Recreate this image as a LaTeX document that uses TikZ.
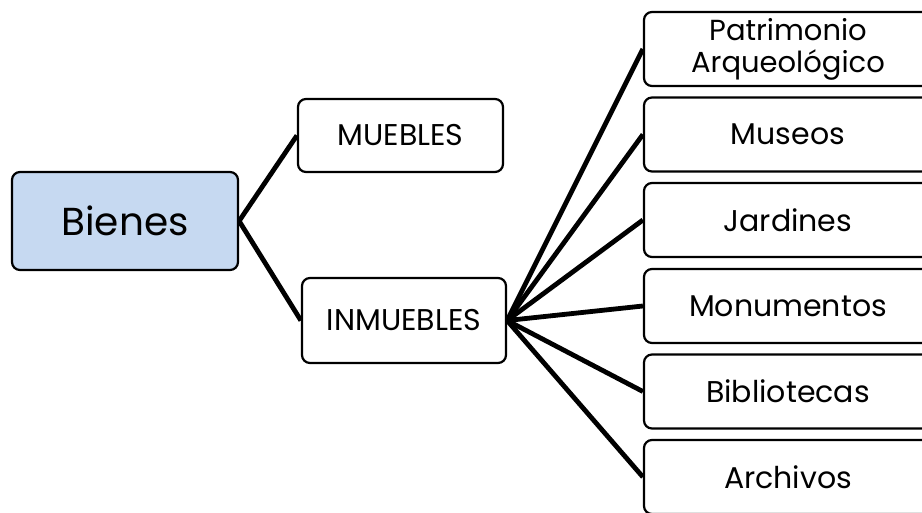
\documentclass[tikz,border=0pt]{standalone}
\usepackage{fontspec}
\setmainfont{Poppins}
\definecolor{bienesfill}{HTML}{C6D9F1}
\tikzset{
  box/.style={draw=black, line width=2.2pt, rounded corners=8pt, inner sep=0pt, align=center, text=black, font=\fontsize{30}{31}\selectfont},
  rbox/.style={box, minimum width=288pt, minimum height=74pt},
  link/.style={line width=4.8pt, black}
}
\begin{document}
\begin{tikzpicture}[x=1pt,y=-1pt]
\useasboundingbox (0,0) rectangle (922,512);
\clip (0,0) rectangle (922,512);
\node[box, fill=bienesfill, minimum width=226pt, minimum height=98pt, font=\fontsize{39}{42}\selectfont] (bienes) at (125,221) {Bienes};
\node[box, minimum width=205pt, minimum height=73pt] (muebles) at (400.5,135.5) {MUEBLES};
\node[box, minimum width=204pt, minimum height=85pt] (inmuebles) at (404,320.5) {INMUEBLES};
\node[rbox, font=\fontsize{29}{32}\selectfont] (patrimonio) at (788,49) {Patrimonio\\Arqueológico};
\node[rbox] (museos) at (788,134.5) {Museos};
\node[rbox] (jardines) at (788,220) {Jardines};
\node[rbox] (monumentos) at (788,306) {Monumentos};
\node[rbox] (bibliotecas) at (788,391.5) {Bibliotecas};
\node[rbox] (archivos) at (788,477) {Archivos};
\draw[link] (bienes.east) -- (muebles.west);
\draw[link] (bienes.east) -- (inmuebles.west);
\foreach \n in {patrimonio,museos,jardines,monumentos,bibliotecas,archivos}
  \draw[link] (inmuebles.east) -- (\n.west);
\end{tikzpicture}
\end{document}
